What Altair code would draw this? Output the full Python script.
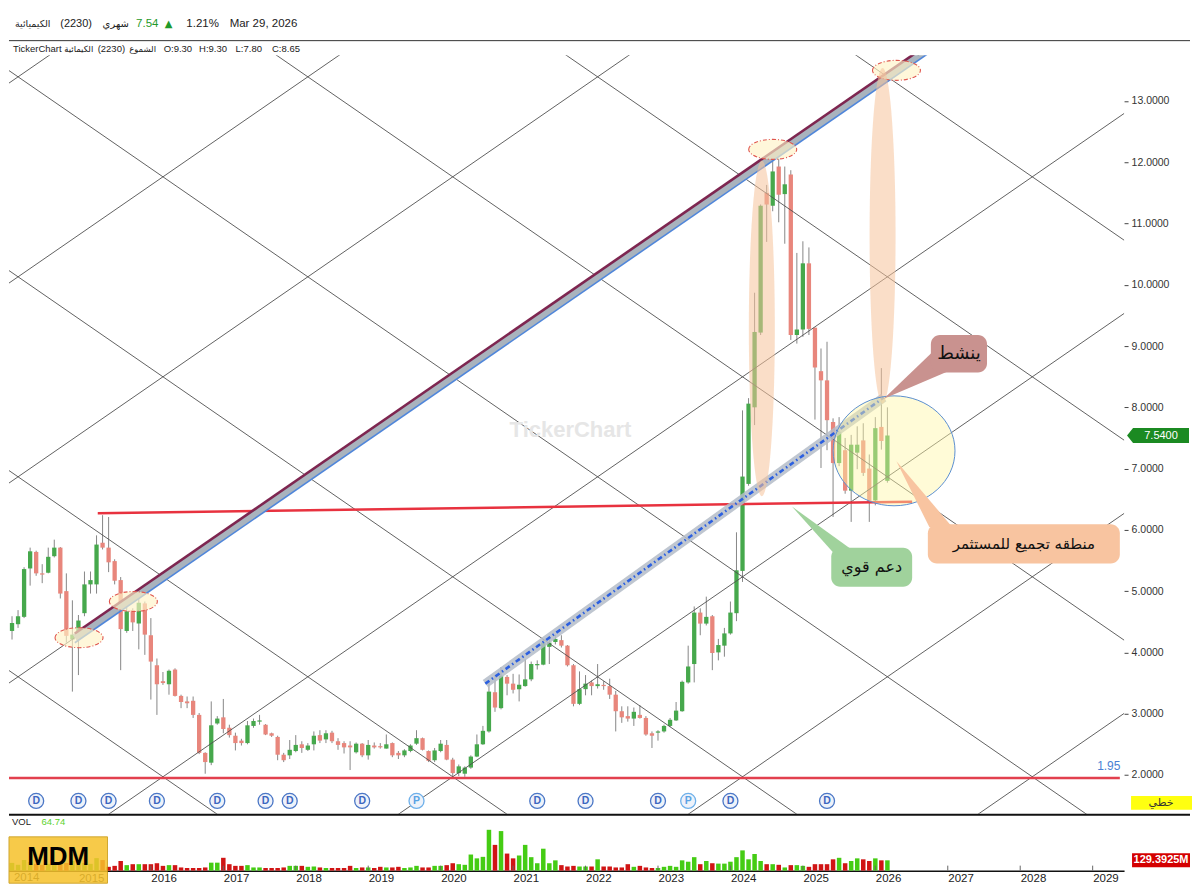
import altair as alt
import pandas as pd

# ---------------- monthly candles, Feb 2014 ... Mar 2026 ----------------
first_month = "2014-02"

opens = [
    4.35, 4.46, 4.58, 5.37, 5.64, 5.29, 5.30, 5.57, 5.71, 5.00, 4.21,
    4.33, 4.64, 5.11, 5.11, 5.79, 5.71, 5.49, 5.18, 4.35, 4.69, 4.47, 4.80,
    4.28, 3.79, 3.53, 3.48, 3.72, 3.29, 3.20, 3.21, 2.98, 2.36, 2.20, 2.84,
    2.94, 2.77, 2.64, 2.56, 2.52, 2.80, 2.87, 2.82, 2.68, 2.62, 2.33, 2.32,
    2.39, 2.50, 2.41, 2.50, 2.65, 2.58, 2.69, 2.55, 2.52, 2.48, 2.37, 2.51,
    2.32, 2.48, 2.47, 2.43, 2.52, 2.36, 2.32, 2.39, 2.51, 2.60, 2.39, 2.24,
    2.39, 2.49, 2.25, 2.03, 2.02, 2.12, 2.30, 2.50, 2.71, 3.35, 3.09, 3.60,
    3.49, 3.40, 3.45, 3.56, 3.79, 3.80, 4.09, 4.17, 4.20, 4.11, 3.79, 3.16,
    3.40, 3.51, 3.45, 3.47, 3.45, 3.31, 3.04, 2.96, 2.92, 2.98, 2.93, 2.68,
    2.69, 2.71, 2.80, 2.89, 3.04, 3.51, 3.81, 4.65, 4.47, 4.59, 4.00, 4.11,
    4.31, 4.64, 5.33, 6.75, 8.00, 9.22, 11.50, 11.29, 11.93, 11.48, 11.80, 9.18,
    9.27, 10.35, 9.30, 8.59, 8.44, 7.76, 7.09, 7.30, 6.64, 7.26, 7.46, 7.00,
    6.48, 7.68, 6.80,
]
highs = [
    4.59, 4.69, 5.39, 5.71, 5.66, 5.44, 5.71, 5.84, 5.72, 5.29, 4.85,
    4.61, 5.32, 5.32, 5.91, 6.24, 6.21, 5.52, 5.23, 4.85, 4.72, 4.96, 4.83,
    4.56, 3.90, 3.68, 3.72, 3.74, 3.31, 3.28, 3.28, 3.01, 2.37, 3.20, 2.96,
    3.24, 2.82, 2.69, 2.59, 2.88, 2.92, 2.98, 2.83, 2.69, 2.64, 2.36, 2.57,
    2.65, 2.55, 2.52, 2.71, 2.73, 2.73, 2.72, 2.60, 2.55, 2.55, 2.53, 2.52,
    2.57, 2.53, 2.52, 2.66, 2.53, 2.39, 2.42, 2.50, 2.73, 2.61, 2.40, 2.44,
    2.57, 2.57, 2.28, 2.17, 2.14, 2.32, 2.66, 2.80, 3.52, 3.63, 3.76, 3.63,
    3.65, 3.64, 3.89, 3.85, 3.87, 4.22, 4.27, 4.29, 4.28, 4.12, 3.81, 3.69,
    3.63, 3.54, 3.81, 3.53, 3.57, 3.37, 3.12, 3.12, 3.10, 3.14, 2.96, 2.71,
    2.73, 2.82, 2.93, 3.19, 3.54, 4.11, 4.75, 4.72, 4.91, 4.61, 4.22, 4.40,
    4.83, 5.96, 7.95, 8.15, 9.87, 11.31, 11.63, 12.03, 12.06, 11.93, 11.87, 10.52,
    10.71, 10.61, 9.30, 8.96, 9.07, 7.82, 7.84, 7.50, 7.55, 7.69, 7.74, 7.23,
    7.84, 8.64, 8.00,
]
lows = [
    4.21, 4.40, 4.56, 5.09, 5.25, 5.13, 5.29, 5.55, 4.88, 4.16, 3.36,
    3.63, 4.59, 4.96, 4.96, 5.68, 5.31, 5.11, 3.71, 4.32, 4.35, 4.05, 3.96,
    3.23, 2.98, 3.47, 3.31, 3.28, 3.09, 3.09, 2.93, 2.34, 2.02, 2.16, 2.82,
    2.68, 2.61, 2.40, 2.48, 2.50, 2.77, 2.82, 2.65, 2.62, 2.24, 2.21, 2.26,
    2.37, 2.36, 2.39, 2.40, 2.52, 2.52, 2.52, 2.41, 2.35, 2.08, 2.35, 2.29,
    2.25, 2.43, 2.43, 2.43, 2.29, 2.26, 2.29, 2.37, 2.49, 2.40, 2.21, 2.21,
    2.37, 2.24, 1.97, 1.98, 1.97, 2.10, 2.29, 2.49, 2.69, 3.03, 3.07, 3.30,
    3.33, 3.20, 3.44, 3.53, 3.72, 3.79, 3.81, 4.13, 4.08, 3.77, 3.12, 3.14,
    3.30, 3.30, 3.41, 3.39, 3.24, 2.71, 2.85, 2.87, 2.80, 2.92, 2.64, 2.44,
    2.56, 2.69, 2.78, 2.88, 3.03, 3.49, 3.51, 4.28, 4.44, 3.71, 3.87, 3.93,
    4.29, 4.51, 5.15, 6.72, 7.71, 9.18, 10.70, 11.20, 11.02, 10.67, 9.10, 9.04,
    9.15, 9.18, 7.80, 7.01, 7.30, 6.21, 7.04, 6.59, 6.13, 6.99, 6.88, 6.13,
    6.40, 7.31, 6.77,
]
closes = [
    4.48, 4.59, 5.36, 5.65, 5.29, 5.27, 5.56, 5.71, 4.96, 4.27, 4.29,
    4.52, 5.11, 5.18, 5.76, 5.71, 5.47, 5.17, 4.38, 4.67, 4.49, 4.81, 4.29,
    3.85, 3.48, 3.50, 3.70, 3.29, 3.19, 3.17, 2.98, 2.36, 2.21, 2.81, 2.92,
    2.75, 2.65, 2.52, 2.52, 2.81, 2.88, 2.89, 2.66, 2.64, 2.33, 2.24, 2.41,
    2.49, 2.44, 2.48, 2.64, 2.56, 2.68, 2.55, 2.49, 2.45, 2.45, 2.51, 2.32,
    2.49, 2.45, 2.45, 2.50, 2.32, 2.32, 2.40, 2.48, 2.60, 2.41, 2.23, 2.40,
    2.51, 2.25, 2.03, 2.14, 2.12, 2.30, 2.50, 2.72, 3.36, 3.10, 3.62, 3.49,
    3.39, 3.47, 3.56, 3.81, 3.81, 4.16, 4.16, 4.22, 4.11, 3.79, 3.16, 3.40,
    3.49, 3.45, 3.48, 3.45, 3.31, 3.04, 2.94, 2.92, 3.03, 2.93, 2.66, 2.64,
    2.71, 2.80, 2.90, 3.05, 3.52, 3.77, 4.65, 4.47, 4.58, 3.99, 4.12, 4.31,
    4.65, 5.34, 6.87, 8.06, 9.23, 11.29, 11.31, 11.85, 11.47, 11.64, 9.18, 9.27,
    10.35, 9.28, 8.65, 8.44, 7.79, 7.09, 7.60, 6.64, 7.39, 7.39, 6.93, 6.45,
    7.66, 7.45, 7.54,
]
volumes_m = [
    97, 73, 133, 109, 85, 73, 85, 97, 109, 97, 121,
    109, 97, 85, 157, 133, 48, 60, 121, 69, 81, 81, 81,
    81, 93, 60, 69, 69, 40, 33, 33, 33, 40, 100, 100,
    161, 81, 60, 60, 69, 40, 40, 33, 33, 33, 40, 60,
    60, 60, 48, 52, 40, 33, 33, 33, 33, 60, 33, 40,
    40, 33, 48, 40, 40, 48, 33, 40, 60, 40, 40, 60,
    60, 69, 93, 81, 73, 202, 154, 173, 512, 323, 496, 214,
    154, 190, 323, 169, 93, 275, 93, 129, 69, 52, 60, 52,
    52, 52, 142, 52, 52, 40, 40, 81, 48, 60, 40, 33,
    33, 48, 60, 48, 129, 112, 169, 81, 121, 93, 88, 88,
    112, 169, 254, 142, 209, 121, 81, 81, 73, 40, 69, 69,
    60, 48, 81, 81, 81, 142, 161, 93, 121, 154, 142, 121,
    154, 129, 129.39,
]

price_ticks = [2, 3, 4, 5, 6, 7, 8, 9, 10, 11, 12, 13]
year_ticks = list(range(2015, 2030))
d_months = ["2014-06", "2015-01", "2015-06", "2016-02", "2016-12", "2017-08", "2017-12",
            "2018-12", "2021-05", "2022-01", "2023-01", "2024-01", "2025-05"]
p_months = ["2019-09", "2023-06"]

last_price = 7.54
support_low = 1.95
last_volume = 129.39

# drawings (month index since Jan 2014, price)
trend_t, trend_v = [11.4, 160.0], [4.24, 14.35]
dotted_t, dotted_v = [79.4, 145.4], [3.49, 8.16]
support_t, support_v = [15.2, 150.1], [6.27, 6.46]
small_ell_t, small_ell_v = [12.1, 21.1, 127.0, 147.5], [4.24, 4.83, 12.21, 13.50]
tall_ell_t, tall_ell_v = [125.2, 145.2], [9.29, 10.80]
zone_t, zone_v = 147.1, 7.29
lattice_anchor = (74, 1.97)   # Mar 2020 low
lattice_step = 48
lattice_slope = 0.068

# ---------------- helpers ----------------
def month_index(s):
    y, m = s.split("-")
    return (int(y) - 2014) * 12 + int(m) - 1

months = pd.period_range(first_month, periods=len(opens), freq="M")
df = pd.DataFrame({
    "t": [(p.year - 2014) * 12 + p.month - 1 for p in months],
    "open": opens, "high": highs, "low": lows, "close": closes, "vol": volumes_m,
})

W = 1116
H_HEAD, H_PRICE, H_VOL = 47, 759, 57
KX = W / 1132.0
KYH = H_HEAD / 48.0
KYV = H_VOL / 59.0
LAT = "Liberation Sans, DejaVu Sans"
AR = "DejaVu Sans"

XS = alt.Scale(domain=[0.5, 185.2], nice=False, zero=False, padding=0)
YS = alt.Scale(domain=[1.3675, 13.745], nice=False, zero=False, padding=0)
VS = alt.Scale(domain=[0, 714], nice=False, zero=True, padding=0)

PAX = alt.Axis(orient="right", values=price_ticks, format=".4f", title=None, domain=False, grid=False,
               tickSize=4, tickColor="#444", labelPadding=3, labelFont=LAT, labelFontSize=10.5,
               labelColor="#333")
YAX = alt.Axis(orient="bottom", values=[(y - 2014) * 12 for y in year_ticks],
               labelExpr="'' + (2014 + datum.value / 12)",
               title=None, grid=False, ticks=False, domainColor="#111", domainWidth=1.5,
               labelAlign="left", labelPadding=2, labelFont=LAT, labelFontSize=11.5, labelColor="#222",
               labelFlush=False, labelOverlap=False)

def X(f):
    return alt.X(f, type="quantitative", scale=XS, axis=None)

def Y(f):
    return alt.Y(f, type="quantitative", scale=YS, axis=PAX)

def VX(f):
    return alt.X(f, type="quantitative", scale=XS, axis=YAX)

def VY(f):
    return alt.Y(f, type="quantitative", scale=VS, axis=None)

ONE = alt.Data(values=[{"k": 0}])

def ptext(txt, x, y, size, color="#222", align="left", font=LAT, weight="normal"):
    return alt.Chart(ONE).mark_text(
        text=txt, align=align, baseline="middle", fontSize=size, font=font,
        color=color, fontWeight=weight,
    ).encode(x=alt.value(x), y=alt.value(y))

up = alt.datum.close >= alt.datum.open

# ---------------- header ----------------
y1, y2 = 15.5 * KYH, 41.5 * KYH
header = alt.layer(
    ptext("الكيميائية", 6, y1, 9.5, font=AR),
    ptext("(2230)", 52 * KX, y1, 11),
    ptext("شهري", 95 * KX, y1, 10, font=AR),
    ptext("7.54", 129 * KX, y1, 11.5, color="#1f9a2a"),
    ptext("▲", 158 * KX, y1, 10, color="#1f9a2a", font=AR),
    ptext("1.21%", 180 * KX, y1, 11.5),
    ptext("Mar 29, 2026", 224 * KX, y1, 11.5),
    alt.Chart(ONE).mark_rule(color="#333", strokeWidth=1).encode(
        x=alt.value(0), x2=alt.value(W + 66), y=alt.value(33 * KYH)),
    ptext("TickerChart", 4 * KX, y2, 9.5),
    ptext("الكيمائية", 56 * KX, y2, 8.5, font=AR),
    ptext("(2230)", 90 * KX, y2, 9.5),
    ptext("الشموع", 122 * KX, y2, 8.5, font=AR),
    ptext("O:9.30", 157 * KX, y2, 9.5),
    ptext("H:9.30", 193 * KX, y2, 9.5),
    ptext("L:7.80", 230 * KX, y2, 9.5),
    ptext("C:8.65", 267 * KX, y2, 9.5),
).properties(width=W, height=H_HEAD)

# ---------------- price panel ----------------
a_t, a_v = lattice_anchor
segs = []
for k in range(-5, 3):
    t0 = a_t + lattice_step * k
    segs.append({"t1": -80, "v1": a_v + lattice_slope * (-80 - t0),
                 "t2": 260, "v2": a_v + lattice_slope * (260 - t0)})
for k in range(-1, 6):
    t0 = a_t + lattice_step * k
    segs.append({"t1": -80, "v1": a_v - lattice_slope * (-80 - t0),
                 "t2": 260, "v2": a_v - lattice_slope * (260 - t0)})
df_lat = pd.DataFrame(segs)

lattice = alt.Chart(df_lat).mark_rule(color="#505050", strokeWidth=0.9, clip=True).encode(
    x=X("t1"), x2="t2", y=Y("v1"), y2="v2")

watermark = alt.Chart(pd.DataFrame({"t": [93.5], "v": [7.63], "s": ["TickerChart"]})).mark_text(
    fontSize=22, fontWeight="bold", font=LAT, color="#e6e6e6").encode(x=X("t"), y=Y("v"), text="s")

base_line = alt.Chart(pd.DataFrame({"t": [0.5, 184.5], "v": [support_low] * 2})).mark_line(
    color="#e2404e", strokeWidth=2.5, clip=True).encode(x=X("t"), y=Y("v"))
support = alt.Chart(pd.DataFrame({"t": support_t, "v": support_v})).mark_line(
    color="#e8323f", strokeWidth=2.5, clip=True).encode(x=X("t"), y=Y("v"))

wicks = alt.Chart(df).mark_rule(color="#878787", strokeWidth=1).encode(
    x=X("t"), y=Y("low"), y2="high")
bodies = alt.Chart(df).mark_bar(size=4.3).encode(
    x=X("t"), y=Y("open"), y2="close",
    color=alt.condition(up, alt.value("#46a84c"), alt.value("#e8867c")))

tr = pd.DataFrame({"t": trend_t, "v": trend_v})
tr["vt"] = tr["v"] + 0.068
tr["vb"] = tr["v"] - 0.082
trend_band = alt.Chart(tr).mark_line(color="#a9b3bd", strokeWidth=8, clip=True).encode(x=X("t"), y=Y("v"))
trend_top = alt.Chart(tr).mark_line(color="#7e2650", strokeWidth=2.6, clip=True).encode(x=X("t"), y=Y("vt"))
trend_bot = alt.Chart(tr).mark_line(color="#4f86da", strokeWidth=1.6, clip=True).encode(x=X("t"), y=Y("vb"))

dt = pd.DataFrame({"t": dotted_t, "v": dotted_v})
dot_band = alt.Chart(dt).mark_line(color="#b4bcc8", strokeWidth=9, opacity=0.85).encode(x=X("t"), y=Y("v"))
dot_line = alt.Chart(dt).mark_line(color="#2c60e0", strokeWidth=2.6, strokeDash=[5, 3, 1.5, 3]).encode(
    x=X("t"), y=Y("v"))

ELL_S = "M -24 0 A 24 10 0 1 1 24 0 A 24 10 0 1 1 -24 0 Z"
ELL_T = "M 0 -168 A 13 168 0 1 1 0 168 A 13 168 0 1 1 0 -168 Z"
CIRC = "M -61 0 A 61 55 0 1 1 61 0 A 61 55 0 1 1 -61 0 Z"

small_ell = alt.Chart(pd.DataFrame({"t": small_ell_t, "v": small_ell_v})).mark_point(
    shape=ELL_S, size=4, filled=True, fill="#fff3c6", fillOpacity=0.65, stroke="#e0574f",
    strokeWidth=1.1, strokeDash=[4, 2, 1, 2], opacity=1).encode(x=X("t"), y=Y("v"))
tall_ell = alt.Chart(pd.DataFrame({"t": tall_ell_t, "v": tall_ell_v})).mark_point(
    shape=ELL_T, size=4, filled=True, fill="#f5c39a", fillOpacity=0.55, strokeWidth=0,
    opacity=1).encode(x=X("t"), y=Y("v"))
zone = alt.Chart(pd.DataFrame({"t": [zone_t], "v": [zone_v]})).mark_point(
    shape=CIRC, size=4, filled=True, fill="#fff6a6", fillOpacity=0.45, stroke="#5b8fd0",
    strokeWidth=1, opacity=1).encode(x=X("t"), y=Y("v"))

def callout(box_t, box_v, tip, path, color, label, size):
    box = alt.Chart(pd.DataFrame({"t1": [box_t[0]], "t2": [box_t[1]], "v1": [box_v[0]], "v2": [box_v[1]]})
                    ).mark_rect(color=color, cornerRadius=9).encode(x=X("t1"), x2="t2", y=Y("v1"), y2="v2")
    ptr = alt.Chart(pd.DataFrame({"t": [tip[0]], "v": [tip[1]]})).mark_point(
        shape=path, size=4, filled=True, fill=color, strokeWidth=0, opacity=1).encode(x=X("t"), y=Y("v"))
    txt = alt.Chart(pd.DataFrame({"t": [(box_t[0] + box_t[1]) / 2], "v": [(box_v[0] + box_v[1]) / 2],
                                  "s": [label]})).mark_text(
        font=AR, fontSize=size, color="#111", baseline="middle").encode(x=X("t"), y=Y("v"), text="s")
    return [ptr, box, txt]

c1 = callout([153.2, 162.5], [8.57, 9.18], (145.4, 8.14), "M 0 0 L 49 -47 L 68 -29 Z",
             "#c9928f", "ينشط", 18)
c2 = callout([152.7, 184.5], [5.45, 6.09], (147.5, 7.12), "M 0 0 L 33 66 L 56 66 Z",
             "#f8c4a0", "منطقه تجميع للمستثمر", 15)
c3 = callout([136.7, 150.1], [5.07, 5.71], (130.2, 6.38), "M 0 0 L 43 48 L 61 44 Z",
             "#a0d29c", "دعم قوي", 16)

mk = pd.DataFrame({"t": [month_index(m) for m in d_months] + [month_index(m) for m in p_months],
                   "s": ["D"] * len(d_months) + ["P"] * len(p_months)})
mk["v"] = 1.576
is_p = alt.datum.s == "P"
markers = alt.Chart(mk).mark_point(shape="circle", size=225, filled=True, fill="#eef2fa",
                                   strokeWidth=1.3, opacity=1).encode(
    x=X("t"), y=Y("v"), stroke=alt.condition(is_p, alt.value("#6eb0ea"), alt.value("#4b77c6")))
marker_txt = alt.Chart(mk).mark_text(fontSize=10.5, fontWeight="bold", font=LAT, baseline="middle").encode(
    x=X("t"), y=Y("v"), text="s", color=alt.condition(is_p, alt.value("#5aa3e4"), alt.value("#3b66c0")))

lbl195 = alt.Chart(pd.DataFrame({"t": [184.6], "v": [2.14], "s": ["1.95"]})).mark_text(
    align="right", fontSize=12, font=LAT, color="#4a7fd4", baseline="middle").encode(
    x=X("t"), y=Y("v"), text="s")

price_tag = alt.Chart(pd.DataFrame({"v": [last_price]})).mark_point(
    shape="M 3 0 L 9 -7.5 L 65 -7.5 L 65 7.5 L 9 7.5 Z", size=4, filled=True, fill="#1b8a22",
    strokeWidth=0, opacity=1).encode(x=alt.value(W), y=Y("v"))
price_tag_txt = alt.Chart(pd.DataFrame({"v": [last_price], "s": ["7.5400"]})).mark_text(
    fontSize=11, font=LAT, color="white", baseline="middle", dx=37).encode(
    x=alt.value(W), y=Y("v"), text="s")
scale_tag = alt.Chart(pd.DataFrame({"v": [1.544]})).mark_point(
    shape="M 7 -7 L 68 -7 L 68 7 L 7 7 Z", size=4, filled=True, fill="#ffff10", strokeWidth=0,
    opacity=1).encode(x=alt.value(W), y=Y("v"))
scale_txt = alt.Chart(pd.DataFrame({"v": [1.544], "s": ["خطي"]})).mark_text(
    fontSize=11, font=AR, color="#333", baseline="middle", dx=37).encode(
    x=alt.value(W), y=Y("v"), text="s")

price = alt.layer(
    wicks, bodies, lattice, watermark, base_line, support,
    trend_band, trend_top, trend_bot, dot_band, dot_line,
    small_ell, tall_ell, zone, *c1, *c2, *c3,
    markers, marker_txt, lbl195, price_tag, price_tag_txt, scale_tag, scale_txt,
).properties(width=W, height=H_PRICE)

# ---------------- volume panel ----------------
yt = pd.DataFrame({"t": [(y - 2014) * 12 for y in year_ticks]})
vbars = alt.Chart(df).mark_bar(size=4.5).encode(
    x=VX("t"), y=VY("vol"),
    color=alt.condition(up, alt.value("#45cc14"), alt.value("#d01414")))
vticks = alt.Chart(yt).mark_rule(color="#666").encode(
    x=VX("t"), y=alt.value(H_VOL), y2=alt.value(H_VOL - 5))
sep = alt.Chart(ONE).mark_rule(color="#111", strokeWidth=2).encode(
    x=alt.value(0), x2=alt.value(W + 66), y=alt.value(1))
vol_tag = alt.Chart(pd.DataFrame({"v": [last_volume]})).mark_point(
    shape="M 8 -7 L 66 -7 L 66 7 L 8 7 Z", size=4, filled=True, fill="#d40000", strokeWidth=0,
    opacity=1).encode(x=alt.value(W), y=VY("v"))
vol_tag_txt = alt.Chart(pd.DataFrame({"v": [last_volume], "s": ["129.3925M"]})).mark_text(
    fontSize=11, font=LAT, color="white", fontWeight="bold", baseline="middle", dx=37).encode(
    x=alt.value(W), y=VY("v"), text="s")
mdm_box = alt.Chart(ONE).mark_rect(color="#f6c22c", opacity=0.86, stroke="#c99a10", strokeWidth=1).encode(
    x=alt.value(0), x2=alt.value(100 * KX), y=alt.value((845 - 821) * KYV), y2=alt.value((893 - 821) * KYV))

volume = alt.layer(
    vbars, vticks, sep,
    ptext("VOL", 3 * KX, (830 - 821) * KYV, 9.5, color="#222"),
    ptext("64.74", 33 * KX, (830 - 821) * KYV, 9.5, color="#5bd22c"),
    ptext("2014", 5 * KX, (887.5 - 821) * KYV, 11.5, color="#222"),
    mdm_box,
    ptext("MDM", 50 * KX, (866 - 821) * KYV, 26, color="#000", align="center", weight="bold"),
    vol_tag, vol_tag_txt,
).properties(width=W, height=H_VOL)

chart = alt.vconcat(header, price, volume, spacing=0).properties(
    padding=0, background="white").configure_view(stroke=None)

chart.save("out.html", embed_options={"renderer": "svg", "actions": False})
